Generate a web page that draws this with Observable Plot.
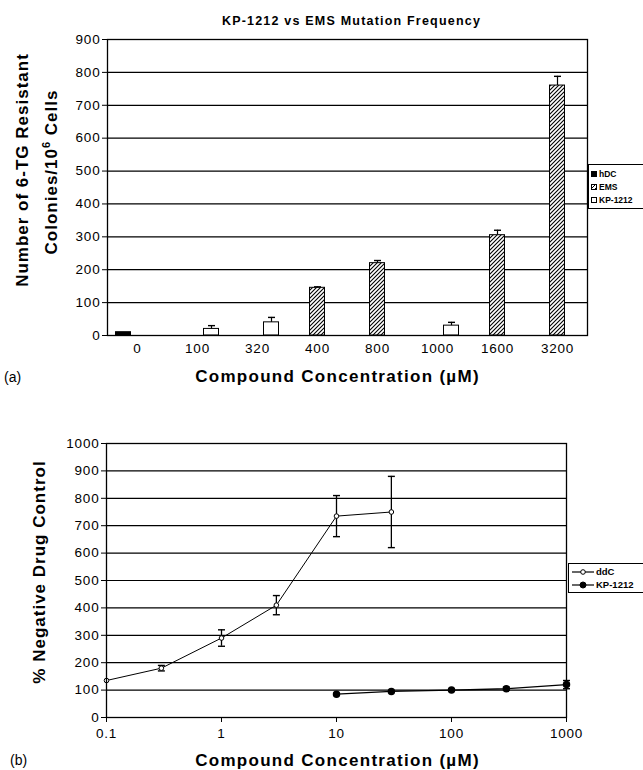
<!DOCTYPE html>
<html><head><meta charset="utf-8">
<script src="https://cdn.jsdelivr.net/npm/d3@7"></script>
<script src="https://cdn.jsdelivr.net/npm/@observablehq/plot@0.6"></script>
<style>
body{margin:0;background:#fff;font-family:"Liberation Sans",Arial,sans-serif;}
#wrap{position:relative;width:643px;height:770px;overflow:hidden;background:#fff;}
.abs{position:absolute;white-space:nowrap;color:#000;}
.plot{position:absolute;left:0;}
.rot{position:absolute;transform:translate(-50%,-50%) rotate(-90deg);white-space:nowrap;font-weight:bold;font-size:17px;letter-spacing:1px;}
.leg{position:absolute;border:1px solid #000;background:#fff;font-weight:bold;box-sizing:border-box;}
.leg div{display:flex;align-items:center;height:13px;}
.sw{display:inline-block;width:6px;height:6px;border:1px solid #000;margin:0 2px 0 2px;box-sizing:border-box;}
.xl{left:0;width:643px;text-align:center;padding-left:32px;box-sizing:border-box;font-weight:bold;font-size:17px;letter-spacing:1.3px;}
</style></head><body>
<svg width="0" height="0" style="position:absolute"><defs>
<pattern id="hatch" patternUnits="userSpaceOnUse" width="4" height="4">
<rect width="4" height="4" fill="#fff"/>
<path d="M-1,1 l2,-2 M0,4 l4,-4 M3,5 l2,-2" stroke="#000" stroke-width="1.1"/>
</pattern></defs></svg>
<div id="wrap">
  <div class="abs" style="left:0;width:643px;top:14px;text-align:center;padding-left:60px;box-sizing:border-box;font-weight:bold;font-size:12.5px;letter-spacing:1.2px;">KP-1212 vs EMS Mutation Frequency</div>
  <div class="rot" style="left:23px;top:170px;">Number of 6-TG Resistant</div>
  <div class="rot" style="left:51px;top:172px;">Colonies/10<sup style="font-size:11px;">6</sup> Cells</div>
  <div class="abs" style="left:4px;top:369px;font-size:14px;">(a)</div>
  <div class="abs xl" style="top:367px;">Compound Concentration (µM)</div>

  <div class="rot" style="left:40px;top:572px;">% Negative Drug Control</div>
  <div class="abs" style="left:10px;top:752px;font-size:14px;">(b)</div>
  <div class="abs xl" style="top:751px;">Compound Concentration (µM)</div>
</div>
<script>
// ---- Chart (a) data ----
const concA = ["0","100","320","400","800","1000","1600","3200"];
const seriesA = ["hDC","EMS","KP-1212"];
const hdcVals = [10, null, null, null, null, null, null, null];
const hdcErr  = [0, null, null, null, null, null, null, null];
const emsVals = [null, null, null, 145, 220, null, 305, 760];
const emsErr  = [null, null, null, 3, 8, null, 15, 28];
const kpVals  = [null, 20, 40, null, null, 30, null, null];
const kpErr   = [null, 10, 15, null, null, 10, null, null];
const yTicksA = [0,100,200,300,400,500,600,700,800,900];

// ---- Chart (b) data ----
const ddcX   = [0.1, 0.3, 1, 3, 10, 30];
const ddcY   = [135, 180, 290, 410, 735, 750];
const ddcErr = [0, 10, 30, 35, 75, 130];
const kpX    = [10, 30, 100, 300, 1000];
const kpY    = [85, 95, 100, 105, 120];
const kpBErr = [0, 0, 0, 6, 15];
const xTicksB = [0.1, 1, 10, 100, 1000];
const yTicksB = [0,100,200,300,400,500,600,700,800,900,1000];

const rows = (vals, errs, series) => concA.map((c,i)=>({conc:c, series, value:vals[i], err:errs[i]})).filter(d=>d.value!=null);
const hdcRows = rows(hdcVals, hdcErr, "hDC");
const emsRows = rows(emsVals, emsErr, "EMS");
const kpRows  = rows(kpVals, kpErr, "KP-1212");

const cap = {draw(ctx, size){ const w = Math.sqrt(size/Math.PI); ctx.moveTo(-w,0); ctx.lineTo(w,0); }};

const wrap = document.getElementById("wrap");
const style = {fontFamily:"Liberation Sans, Arial, sans-serif", fontSize:"13.5px", letterSpacing:"0.8px", color:"black", background:"transparent", overflow:"visible"};

const barOpts = (fill, dx) => ({x:"conc", y:"value", fill, stroke:"black", strokeWidth:1, dx, insetLeft:22.5, insetRight:22.5});
const errMarks = (data, dx) => {
  const d = data.filter(r=>r.err>0);
  return [
    Plot.ruleX(d, {x:"conc", y1:"value", y2:r=>r.value+r.err, stroke:"black", strokeWidth:1.2, dx}),
    Plot.dot(d, {x:"conc", y:r=>r.value+r.err, symbol:cap, r:3.5, stroke:"black", strokeWidth:1.4, fill:"none", dx})
  ];
};

const chartA = Plot.plot({
  width:643, height:390,
  marginLeft:107, marginRight:56, marginTop:39, marginBottom:55,
  style,
  x:{domain:concA, padding:0, label:null, tickSize:0, tickPadding:8},
  y:{domain:[0,900], ticks:yTicksA, tickFormat:d=>String(d), label:null, tickSize:5, tickPadding:2},
  marks:[
    Plot.ruleY(yTicksA, {stroke:"black", strokeWidth:1.2}),
    Plot.barY(hdcRows, barOpts("black", -14)),
    Plot.barY(emsRows, barOpts("url(#hatch)", 0)),
    Plot.barY(kpRows, barOpts("white", 14)),
    ...errMarks(emsRows, 0),
    ...errMarks(kpRows, 14),
    Plot.frame({stroke:"black", strokeWidth:1.3})
  ]
});
chartA.classList.add("plot");
chartA.style.top = "0px";
wrap.appendChild(chartA);

const ddcRows = ddcX.map((x,i)=>({x, y:ddcY[i], err:ddcErr[i]}));
const kpBRows = kpX.map((x,i)=>({x, y:kpY[i], err:kpBErr[i]}));
const errB = data => {
  const d = data.filter(r=>r.err>0);
  return [
    Plot.ruleX(d, {x:"x", y1:r=>r.y-r.err, y2:r=>r.y+r.err, stroke:"black", strokeWidth:1.3}),
    Plot.dot(d, {x:"x", y:r=>r.y+r.err, symbol:cap, r:3.5, stroke:"black", strokeWidth:1.4, fill:"none"}),
    Plot.dot(d, {x:"x", y:r=>r.y-r.err, symbol:cap, r:3.5, stroke:"black", strokeWidth:1.4, fill:"none"})
  ];
};

const chartB = Plot.plot({
  width:643, height:370,
  marginLeft:106, marginRight:77, marginTop:43, marginBottom:53,
  style,
  x:{type:"log", domain:[0.1,1000], ticks:xTicksB, tickFormat:d=>String(d), label:null, tickSize:5, tickPadding:6},
  y:{domain:[0,1000], ticks:yTicksB, tickFormat:d=>String(d), label:null, tickSize:5, tickPadding:2},
  marks:[
    Plot.ruleY(yTicksB, {stroke:"black", strokeWidth:1.2}),
    ...errB(ddcRows),
    ...errB(kpBRows),
    Plot.line(ddcRows, {x:"x", y:"y", stroke:"black", strokeWidth:1}),
    Plot.dot(ddcRows, {x:"x", y:"y", r:2.3, fill:"white", stroke:"black", strokeWidth:1}),
    Plot.line(kpBRows, {x:"x", y:"y", stroke:"black", strokeWidth:1.3}),
    Plot.dot(kpBRows, {x:"x", y:"y", r:3, fill:"black", stroke:"black"}),
    Plot.frame({stroke:"black", strokeWidth:1.3})
  ]
});
chartB.classList.add("plot");
chartB.style.top = "400px";
wrap.appendChild(chartB);

// ---- Legends ----
const legA = document.createElement("div");
legA.className = "leg";
Object.assign(legA.style, {left:"588px", top:"164px", width:"62px", height:"45px", fontSize:"8.5px", paddingTop:"2px"});
const swA = {"hDC":"background:#000", "EMS":"background-image:repeating-linear-gradient(-45deg,#000 0 1px,#fff 1px 3px)", "KP-1212":"background:#fff"};
seriesA.forEach(s=>{
  const r = document.createElement("div");
  r.innerHTML = `<span class="sw" style="${swA[s]}"></span>${s}`;
  legA.appendChild(r);
});
wrap.appendChild(legA);

const legB = document.createElement("div");
legB.className = "leg";
Object.assign(legB.style, {left:"568px", top:"563px", width:"80px", height:"30px", fontSize:"9.5px", paddingTop:"1px"});
const legBItems = [["ddC", "white"], ["KP-1212", "black"]];
legBItems.forEach(([name, fill])=>{
  const r = document.createElement("div");
  r.innerHTML = `<svg width="22" height="10" style="margin:0 2px 0 3px"><line x1="0" x2="22" y1="5" y2="5" stroke="#000" stroke-width="1.2"/><circle cx="11" cy="5" r="${fill==="white"?2.3:3}" fill="${fill}" stroke="#000"/></svg>${name}`;
  legB.appendChild(r);
});
wrap.appendChild(legB);
</script>
</body></html>
